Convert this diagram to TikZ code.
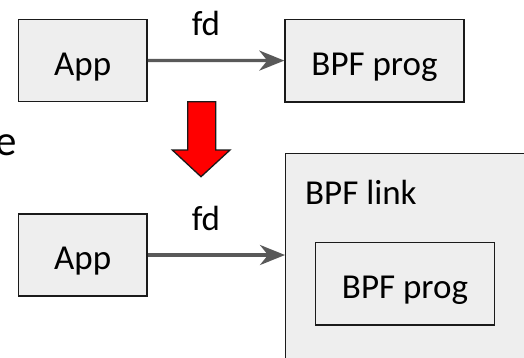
\documentclass[tikz,border=0pt]{standalone}
\usepackage{fontspec}
\setmainfont{Carlito}
\usetikzlibrary{arrows.meta}
\definecolor{boxfill}{HTML}{EEEEEE}
\definecolor{boxline}{HTML}{1A1A1A}
\definecolor{linkgray}{HTML}{595959}
\tikzset{
  box/.style={draw=boxline, line width=1.4pt, fill=boxfill, rectangle,
    inner sep=0pt, font=\fontsize{35}{41}\selectfont,
    text height=29pt, text depth=0pt},
  plain/.style={inner sep=0pt, font=\fontsize{35}{41}\selectfont},
  fdarrow/.style={draw=linkgray, line width=3.2pt,
    -{Stealth[length=25pt, width=20pt, inset=8pt, fill=linkgray]}},
  bigarrow/.style={draw=boxline, line width=1.3pt, fill=red, line join=miter}
}
\begin{document}
\begin{tikzpicture}[x=1pt, y=-1pt]
  \clip (0,0) rectangle (524,357);
  \fill[white] (0,0) rectangle (524,357);

  % word running off the left edge
  \node[inner sep=0pt, anchor=base east, font=\fontsize{43}{50}\selectfont] (tail) at (17,155) {e};

  % before: app holds an fd to the program
  \node[box, minimum width=128.7pt, minimum height=82.4pt] (app1) at (82.7,60.5) {App};
  \node[box, minimum width=179pt, minimum height=82.7pt] (prog1) at (374.5,60.6) {BPF prog};
  \draw[fdarrow] (app1.east) -- (prog1.west);
  \node[plain, anchor=base] (fd1) at (206,35.7) {fd};

  % transition arrow
  \draw[bigarrow] (187.7,101.7) -- (215.7,101.7) -- (215.7,150) -- (230,150)
    -- (201,176.7) -- (172.3,150) -- (187.7,150) -- cycle;

  % after: app holds an fd to the link, which wraps the program
  \node[box, minimum width=128.7pt, minimum height=82pt] (app2) at (82.7,255) {App};
  \node[draw=boxline, line width=1.4pt, fill=boxfill, rectangle, inner sep=0pt,
        minimum width=270pt, minimum height=240pt, anchor=north west] (link) at (285,152.7) {};
  \node[plain, anchor=base west] (linklabel) at (305,204.3) {BPF link};
  \node[box, minimum width=179.4pt, minimum height=82.3pt] (prog2) at (405,283.9) {BPF prog};
  \draw[fdarrow] (app2.east) -- (app2.east -| link.west);
  \node[plain, anchor=base] (fd2) at (206,230.6) {fd};
\end{tikzpicture}
\end{document}
